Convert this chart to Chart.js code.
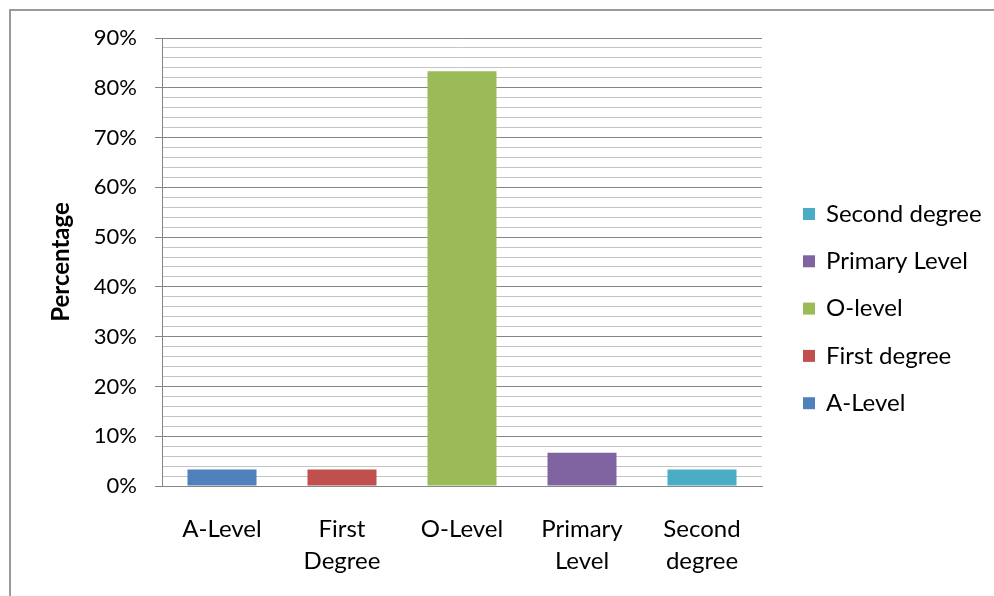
<!DOCTYPE html>
<html><head><meta charset="utf-8">
<script src="https://cdn.jsdelivr.net/npm/chart.js@4/dist/chart.umd.min.js"></script>
<style>
html,body{margin:0;padding:0;background:#fff;overflow:hidden;}
#wrap{position:relative;width:994px;height:596px;overflow:hidden;}
#frame{position:absolute;left:9px;top:9px;width:1100px;height:700px;border:2px solid #9a9a9a;box-sizing:border-box;pointer-events:none;}
canvas{position:absolute;left:0;top:0;}
</style></head><body>
<div id="wrap"><canvas id="c" width="994" height="596"></canvas><div id="frame"></div></div>
<script>
// ---- data ----
const categories = [['A-Level'], ['First', 'Degree'], ['O-Level'], ['Primary', 'Level'], ['Second', 'degree']];
const seriesNames = ['A-Level', 'First degree', 'O-level', 'Primary Level', 'Second degree'];
const values = [3.33, 3.33, 83.33, 6.67, 3.33];
const colors = ['#4F81BD', '#C0504D', '#9BBB59', '#8064A2', '#4BACC6'];
const majorTickValues = [0, 10, 20, 30, 40, 50, 60, 70, 80, 90];
const yTickLabels = ['0%', '10%', '20%', '30%', '40%', '50%', '60%', '70%', '80%', '90%'];
const yTitle = 'Percentage';

const FONT = 'Lato';
const datasets = seriesNames.map((name, i) => ({
  label: name,
  data: categories.map((c, j) => (j === i ? values[i] : null)),
  backgroundColor: colors[i],
  borderWidth: 0,
  categoryPercentage: 1,
  barPercentage: 0.575
}));

const sideLegend = {
  id: 'sideLegend',
  afterDraw(chart) {
    const ctx = chart.ctx, ca = chart.chartArea;
    const ds = chart.data.datasets;
    ctx.save();
    ctx.font = '24px ' + FONT;
    ctx.textBaseline = 'middle';
    ctx.textAlign = 'left';
    const order = ds.map((d, i) => i).reverse();
    order.forEach((i, k) => {
      const cy = ca.top + 176 + k * 47.3;
      ctx.fillStyle = ds[i].backgroundColor;
      ctx.fillRect(ca.right + 41, cy - 6, 12, 12);
      ctx.fillStyle = '#000';
      ctx.fillText(ds[i].label, ca.right + 64, cy);
    });
    ctx.restore();
  }
};

const isMajor = v => majorTickValues.indexOf(v) !== -1;

new Chart(document.getElementById('c'), {
  type: 'bar',
  data: { labels: categories, datasets },
  plugins: [sideLegend],
  options: {
    responsive: false,
    animation: false,
    devicePixelRatio: 1,
    layout: { padding: { left: 10, top: 38, right: 232, bottom: 0 } },
    plugins: { legend: { display: false }, tooltip: { enabled: false } },
    scales: {
      x: {
        stacked: true,
        grid: { display: false, drawTicks: false },
        border: { display: true, color: '#868686', width: 1 },
        ticks: { padding: 28, color: '#000', font: { family: FONT, size: 24, lineHeight: 1.3 }, maxRotation: 0 },
        afterFit(s) { s.height = 110; }
      },
      y: {
        stacked: true,
        min: 0, max: 90,
        ticks: {
          stepSize: 2, autoSkip: false, padding: 18, color: '#000',
          font: { family: FONT, size: 22 },
          callback: v => { const k = majorTickValues.indexOf(v); return k === -1 ? '' : yTickLabels[k]; }
        },
        grid: {
          color: c => (c.tick && isMajor(c.tick.value)) ? '#858585' : '#c4c4c4',
          tickColor: c => (c.tick && isMajor(c.tick.value)) ? '#858585' : 'rgba(0,0,0,0)',
          tickLength: 7,
          lineWidth: 1
        },
        border: { display: true, color: '#868686', width: 1 },
        title: { display: true, text: yTitle, color: '#000', font: { family: FONT, size: 24, weight: 'bold' }, padding: { top: 37, bottom: 0 } },
        afterFit(s) { s.width = 152; }
      }
    }
  }
});
</script>
</body></html>
